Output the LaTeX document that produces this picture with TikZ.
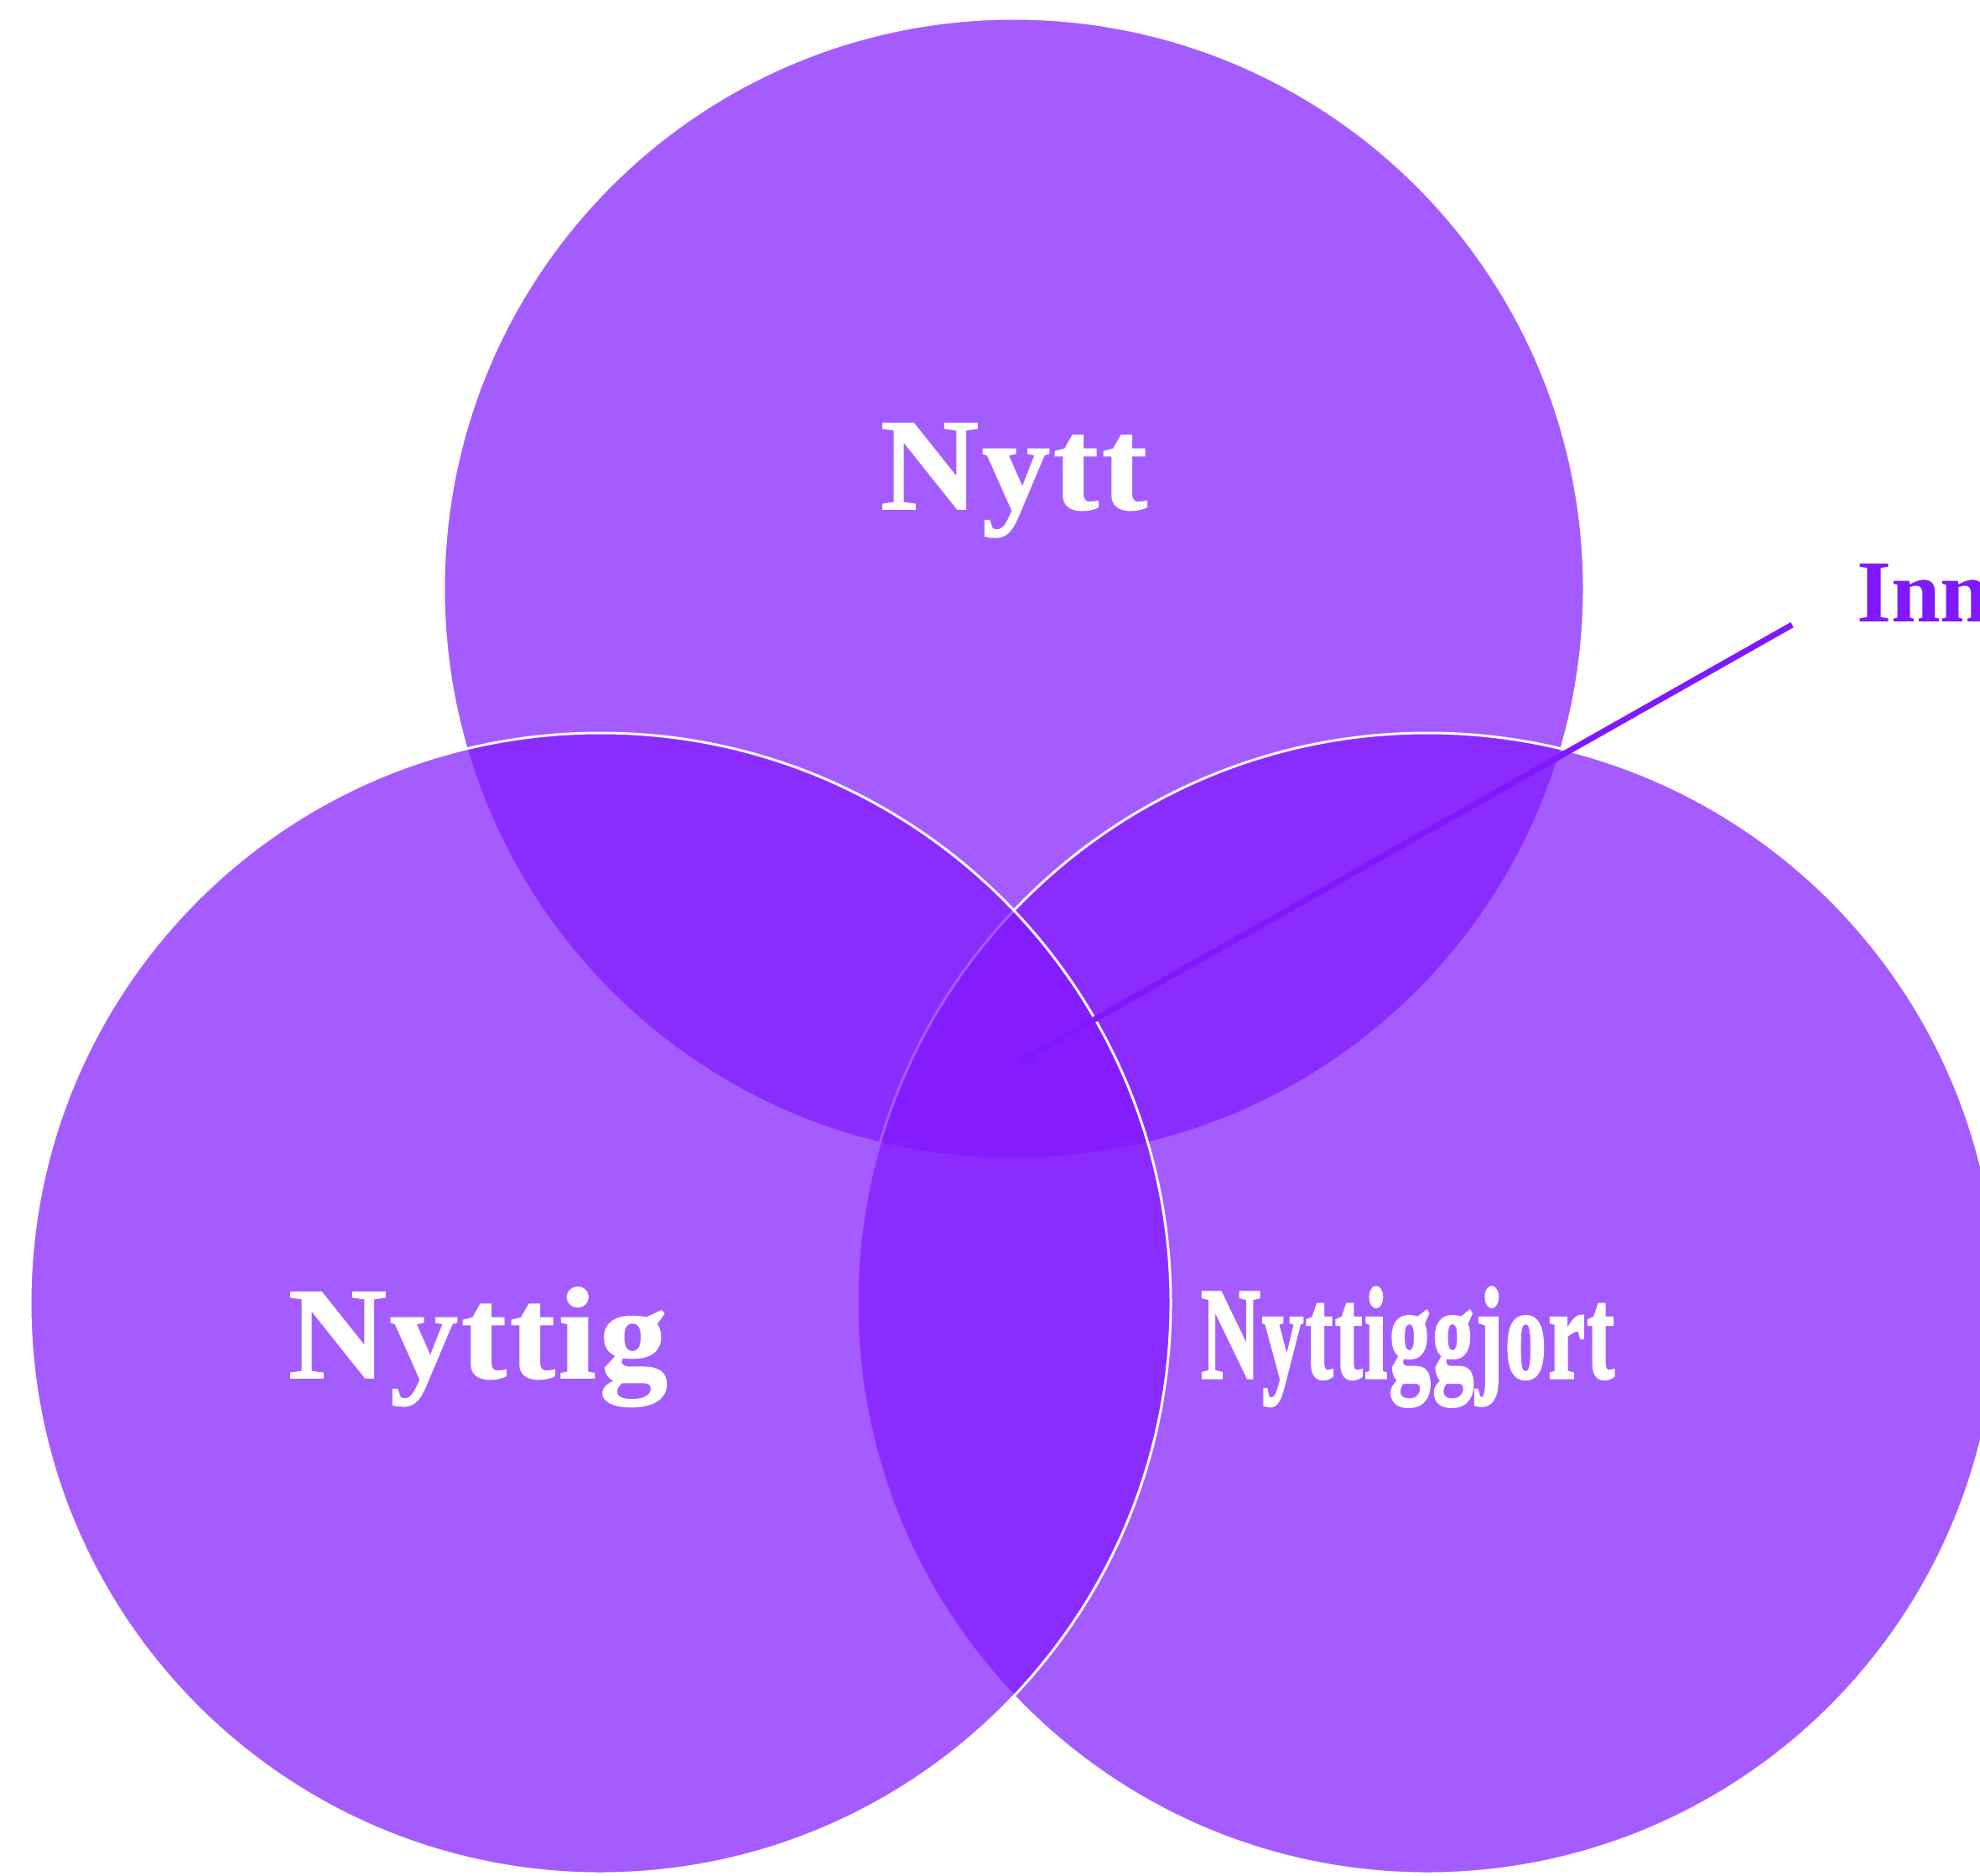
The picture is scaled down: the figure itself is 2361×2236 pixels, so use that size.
\documentclass[tikz,border=0pt]{standalone}
\usepackage{fontspec}
\usepackage{graphicx}
\usetikzlibrary{arrows.meta}
\definecolor{venn}{HTML}{7F17FF}
\newfontfamily\vennserif{Liberation Serif}[LetterSpace=2.5, BoldFeatures={FakeBold=1.2}]
\newfontfamily\condserif{Liberation Serif}[LetterSpace=2.5, BoldFeatures={FakeBold=2.2}]
\newfontfamily\calloutserif{Liberation Serif}
\newcommand\vennlabelfont{\vennserif\bfseries\fontsize{46.7pt}{50pt}\selectfont}
\newcommand\condlabelfont{\condserif\bfseries\fontsize{46.7pt}{50pt}\selectfont}
\newcommand\calloutfont{\calloutserif\bfseries\fontsize{31.6pt}{34pt}\selectfont}
\begin{document}
\begin{tikzpicture}[x=0.3pt,y=-0.3pt,
  vennset/.style={fill=venn, fill opacity=0.7, draw=white, draw opacity=1, line width=0.9pt},
  setlabel/.style={anchor=base west, inner sep=0pt, outer sep=0pt, text=white, font=\vennlabelfont},
  pointer/.style={draw=venn, line width=2.1pt, -{Stealth[length=8pt,width=7.5pt,inset=2.5pt]}}]
\useasboundingbox (0,0) rectangle (2361,2236);
\clip (0,0) rectangle (2361,2236);
% centres of the three sets and of their common part
\coordinate (ctop) at (1209,702);
\coordinate (cleft) at (716,1554);
\coordinate (cright) at (1702,1554);
\coordinate (core) at (1209,1270);
\coordinate (tail) at (2137,745);
% the three sets, drawn top, right, left
\path[vennset] (ctop) circle[radius=680];
\path[vennset] (cright) circle[radius=680];
\path[vennset] (cleft) circle[radius=680];
% set names
\node[setlabel] (nytt) at (1050,607) {\scalebox{1.04}[1]{Nytt}};
\node[setlabel] (nyttig) at (344,1643) {\scalebox{1.04}[1]{Nyttig}};
\node[setlabel, font=\condlabelfont] (nyttiggjort) at (1432,1643) {\scalebox{0.63}[1]{Nyttiggjort}};
% callout for the common part
\node[anchor=base west, inner sep=0pt, outer sep=0pt, text=venn, font=\calloutfont] (innovasjon) at (2214,741) {Innovasjon};
\draw[pointer] (tail) -- (core);
\end{tikzpicture}
\end{document}
